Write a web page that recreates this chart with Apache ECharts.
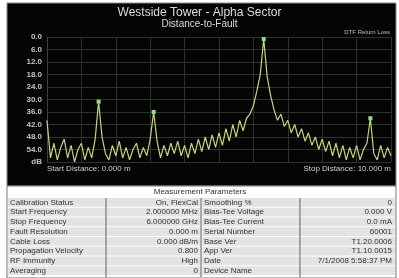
<!DOCTYPE html>
<html>
<head>
<meta charset="utf-8">
<script src="https://cdn.jsdelivr.net/npm/echarts@6/dist/echarts.min.js"></script>
<style>
  html, body { margin: 0; padding: 0; background: #fff; }
  #chart { width: 399px; height: 278px; }
</style>
</head>
<body>
<div id="chart"></div>
<script>
// distance axis, 0 - 10 m in 0.1 m steps
const distances = ['0.0','0.1','0.2','0.3','0.4','0.5','0.6','0.7','0.8','0.9',
  '1.0','1.1','1.2','1.3','1.4','1.5','1.6','1.7','1.8','1.9',
  '2.0','2.1','2.2','2.3','2.4','2.5','2.6','2.7','2.8','2.9',
  '3.0','3.1','3.2','3.3','3.4','3.5','3.6','3.7','3.8','3.9',
  '4.0','4.1','4.2','4.3','4.4','4.5','4.6','4.7','4.8','4.9',
  '5.0','5.1','5.2','5.3','5.4','5.5','5.6','5.7','5.8','5.9',
  '6.0','6.1','6.2','6.3','6.4','6.5','6.6','6.7','6.8','6.9',
  '7.0','7.1','7.2','7.3','7.4','7.5','7.6','7.7','7.8','7.9',
  '8.0','8.1','8.2','8.3','8.4','8.5','8.6','8.7','8.8','8.9',
  '9.0','9.1','9.2','9.3','9.4','9.5','9.6','9.7','9.8','9.9','10.0'];

// return loss (dB)
const returnLoss = [40, 58, 51, 59, 53, 49, 58, 52, 60, 54,
  51, 59, 53, 58, 49, 31, 48, 56, 59, 52,
  57, 50, 58, 53, 59, 54, 51, 58, 53, 57,
  49, 36, 50, 58, 52, 57, 51, 56, 50, 57,
  52, 58, 51, 56, 49, 55, 48, 54, 47, 53,
  46, 52, 44, 50, 42, 48, 40, 45, 39, 37,
  33, 26, 18, 1, 19, 28, 35, 40, 37, 43,
  40, 46, 42, 48, 44, 50, 46, 52, 48, 54,
  49, 55, 50, 57, 51, 58, 52, 59, 53, 58,
  52, 59, 54, 51, 39, 56, 59, 52, 58, 53, 57];

const markers = [['1.5', 31], ['3.1', 36], ['6.3', 1], ['9.4', 39]];

const yTicks = ['0.0','6.0','12.0','18.0','24.0','30.0','36.0','42.0','48.0','54.0','dB'];

const paramsLeft = [
  ['Calibration Status', 'On, FlexCal'],
  ['Start Frequency', '2.000000 MHz'],
  ['Stop Frequency', '6.000000 GHz'],
  ['Fault Resolution', '0.000 m'],
  ['Cable Loss', '0.000 dB/m'],
  ['Propagation Velocity', '0.800'],
  ['RF Immunity', 'High'],
  ['Averaging', '0']
];
const paramsRight = [
  ['Smoothing %', '0'],
  ['Bias-Tee Voltage', '0.000 V'],
  ['Bias-Tee Current', '0.0 mA'],
  ['Serial Number', '60001'],
  ['Base Ver', 'T1.20.0006'],
  ['App Ver', 'T1.10.0015'],
  ['Date', '7/1/2008 5:58:37 PM'],
  ['Device Name', '']
];

const chart = echarts.init(document.getElementById('chart'));

// table built with graphic elements
const font = '8px "Liberation Sans", Arial, sans-serif';
const tbl = [];
const rowTop = 198, rowH = 9.75;
tbl.push({ type: 'rect', shape: { x: 7, y: 186, width: 389, height: 92 }, style: { fill: '#ffffff', stroke: '#777', lineWidth: 1 }, z: 1 });
tbl.push({ type: 'text', x: 200, y: 192, style: { text: 'Measurement Parameters', font: font, fill: '#333', align: 'center', verticalAlign: 'middle' }, z: 3 });
paramsLeft.forEach((p, i) => {
  const y = rowTop + i * rowH;
  const r = paramsRight[i];
  [[8, 98], [107, 93], [202, 98], [301, 94]].forEach(c => {
    tbl.push({ type: 'rect', shape: { x: c[0], y: y, width: c[1], height: rowH - 1 }, style: { fill: '#e3e3e3' }, z: 2 });
  });
  const ty = y + rowH / 2 - 0.5;
  tbl.push({ type: 'text', x: 10, y: ty, style: { text: p[0], font: font, fill: '#333', verticalAlign: 'middle' }, z: 3 });
  tbl.push({ type: 'text', x: 198, y: ty, style: { text: p[1], font: font, fill: '#333', align: 'right', verticalAlign: 'middle' }, z: 3 });
  tbl.push({ type: 'text', x: 204, y: ty, style: { text: r[0], font: font, fill: '#333', verticalAlign: 'middle' }, z: 3 });
  tbl.push({ type: 'text', x: 392, y: ty, style: { text: r[1], font: font, fill: '#333', align: 'right', verticalAlign: 'middle' }, z: 3 });
});
[106, 201, 300].forEach(x => {
  tbl.push({ type: 'line', shape: { x1: x, y1: rowTop, x2: x, y2: 277 }, style: { stroke: '#555', lineWidth: 1 }, z: 3 });
});

const option = {
  backgroundColor: '#ffffff',
  animation: false,
  title: {
    text: 'Westside Tower - Alpha Sector',
    subtext: 'Distance-to-Fault',
    left: 'center',
    top: 2,
    itemGap: 0,
    textStyle: { color: '#dcdcdc', fontSize: 12, fontWeight: 'normal', fontFamily: 'Liberation Sans' },
    subtextStyle: { color: '#dcdcdc', fontSize: 10, fontFamily: 'Liberation Sans' }
  },
  grid: { left: 47, right: 8, top: 37, bottom: 116 },
  xAxis: {
    type: 'category',
    data: distances,
    boundaryGap: false,
    axisLine: { show: false },
    axisTick: { show: false },
    axisLabel: { show: false },
    splitLine: { show: true, interval: 9, lineStyle: { color: '#2b332b', width: 1 } }
  },
  yAxis: {
    type: 'value',
    inverse: true,
    min: 0,
    max: 60,
    interval: 6,
    axisLine: { show: true, lineStyle: { color: '#3a423a' } },
    axisTick: { show: false },
    axisLabel: {
      color: '#c4c4c4',
      fontSize: 8,
      fontWeight: 'bold',
      margin: 5,
      fontFamily: 'Liberation Sans',
      formatter: (v) => yTicks[Math.round(v / 6)]
    },
    splitLine: { show: true, lineStyle: { color: '#2b332b', width: 1 } }
  },
  series: [{
    type: 'line',
    data: returnLoss,
    symbol: 'none',
    lineStyle: { color: '#c9d47c', width: 1.2 },
    markPoint: {
      symbol: 'rect',
      symbolSize: 4,
      itemStyle: { color: '#8fe08a' },
      label: { show: false },
      data: markers.map(m => ({ coord: m }))
    }
  }],
  graphic: [
    { type: 'rect', shape: { x: 7, y: 3, width: 389, height: 183 }, style: { fill: '#050505', stroke: '#8a8a8a', lineWidth: 1 }, z: -10 },
    { type: 'text', right: 9, top: 29, style: { text: 'DTF Return Loss', font: '6px "Liberation Sans", sans-serif', fill: '#bdbdbd' } },
    { type: 'text', left: 47, top: 165, style: { text: 'Start Distance: 0.000 m', font: '8px "Liberation Sans", sans-serif', fill: '#cfcfcf' } },
    { type: 'text', right: 8, top: 165, style: { text: 'Stop Distance: 10.000 m', font: '8px "Liberation Sans", sans-serif', fill: '#cfcfcf' } }
  ].concat(tbl)
};
chart.setOption(option);
</script>
</body>
</html>
